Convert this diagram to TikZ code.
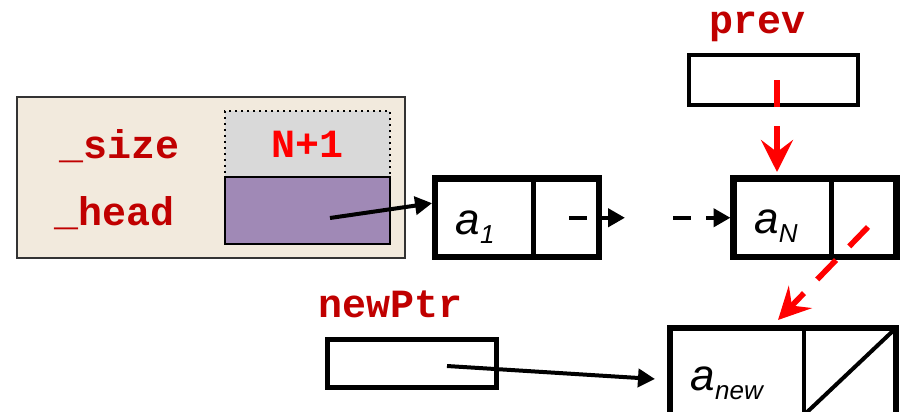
\documentclass[tikz,border=0pt]{standalone}
\usepackage{fontspec}
\setsansfont{Liberation Sans}
\setmonofont{Liberation Mono}
\usepackage{xcolor}
\usepackage{tikz}
\usetikzlibrary{positioning, arrows.meta, calc}
\definecolor{structFill}{HTML}{F2EADD}
\definecolor{lilac}{HTML}{A089B6}
\definecolor{cellGray}{HTML}{D9D9D9}
\definecolor{darkRed}{HTML}{C00000}
\definecolor{ptrRed}{HTML}{FF0000}
\newcommand{\elem}[2]{\textit{#1}\raisebox{-4.5pt}{\fontsize{13}{13}\selectfont\textit{#2}}}

\begin{document}
\begin{tikzpicture}[x=0.5pt,y=-0.5pt]
      \tikzset{field/.style={font=\ttfamily\bfseries\fontsize{20}{22}\selectfont,text=darkRed,anchor=base,inner sep=0pt}, box/.style={draw,inner sep=0pt,outer sep=0pt}, cell/.style={box,line width=2.2pt,minimum height=39.25pt}, frame/.style={line width=3.2pt}, ptrbox/.style={box,line width=2.2pt,minimum width=84.5pt,minimum height=25pt}, elemtext/.style={font=\sffamily\fontsize{22}{24}\selectfont,anchor=base,inner sep=0pt}, ptr/.style={-{Triangle[length=8.5pt,width=9pt]},line width=2pt}, dashptr/.style={ptr,line width=2.2pt,dash pattern=on 9pt off 7.5pt,shorten >=1.5pt}, redptr/.style={-{Stealth[length=16pt,width=16pt,inset=6pt]},draw=ptrRed,line width=2.8pt,dash pattern=on 13.5pt off 9.5pt}}
      \useasboundingbox (0,0) rectangle (905,412);
      \clip (0,0) rectangle (905,412);
      \node[box,draw=black!80,line width=0.8pt,fill=structFill,minimum width=194pt,minimum height=80.5pt] (st) at (211,177.5) {};
      \node[box,dotted,line width=1pt,fill=cellGray,minimum width=82.5pt,minimum height=33pt,font=\ttfamily\bfseries\fontsize{20}{22}\selectfont,text=ptrRed] (s) at (307.5,144) {N+1};
      \node[box,line width=1.3pt,fill=lilac,minimum width=82.5pt,minimum height=33.5pt,below=0pt of s] (h) {};
      \node[field] at (120,158) {\_size};
      \node[field] at (114.5,225) {\_head};
      \node[cell,minimum width=49.25pt] (a1) at (484.25,217.75) {};
      \node[cell,minimum width=32.75pt,right=0pt of a1] (a1l) {};
      \draw[frame] (a1.north west) rectangle (a1l.south east);
      \node[elemtext] at ($(a1.center)+(-9.25,16.5)$) {\elem{a}{1}};
      \node[cell,minimum width=49pt] (aN) at (782.5,217.75) {};
      \node[cell,minimum width=32.5pt,right=0pt of aN] (aNl) {};
      \draw[frame] (aN.north west) rectangle (aNl.south east);
      \node[elemtext] at ($(aN.center)+(-6.5,15.5)$) {\elem{a}{N}};
      \node[cell,minimum width=67pt,minimum height=43.5pt] (an) at (737,371.5) {};
      \node[cell,minimum width=46pt,minimum height=43.5pt,right=0pt of an] (anl) {};
      \draw[frame] (an.north west) rectangle (anl.south east);
      \draw[line width=2pt] (anl.south west) -- (anl.north east);
      \node[elemtext] at ($(an.center)+(-9.5,18.5)$) {\elem{a}{new}};
      \node[ptrbox] (pv) at (773.5,80) {};
      \node[field] at (758,33) {prev};
      \node[ptrbox,minimum height=24pt] (np) at (412,363.5) {};
      \node[field] at (390.5,317) {newPtr};
      \coordinate (g1) at (628,217.75);
      \coordinate (g2) at (673,217.75);
      \draw[ptr,shorten >=1.5pt] ($(h.center)+(22.5,7.5)$) -- ($(a1.west)+(0,-15)$);
      \draw[dashptr] ($(a1l.center)+(2.75,0)$) -- (g1); \draw[dashptr] (g2) -- (aN.west);
      \draw[ptr] ($(np.center)+(35,2.5)$) -- ($(an.west)+(-15,7.5)$);
      \draw[redptr] ($(pv.center)+(3.5,0)$) -- ($(pv.center |- aN.north)+(3.5,-6.5)$);
      \draw[redptr] ($(aNl.center)+(4,9.25)$) -- ($(an.north)+(41,-8)$);
    \end{tikzpicture}
\end{document}
